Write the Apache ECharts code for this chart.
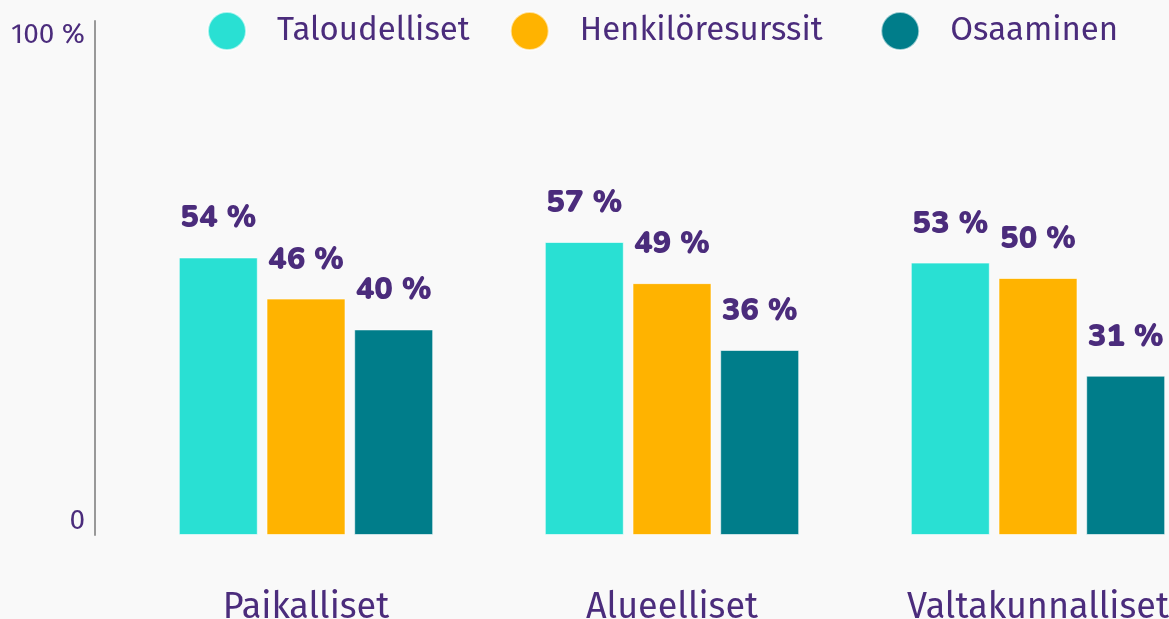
<!DOCTYPE html>
<html><head><meta charset="utf-8">
<script src="https://cdn.jsdelivr.net/npm/echarts@6/dist/echarts.min.js"></script>
<style>html,body{margin:0;padding:0;background:#f9f9f9}#c{width:1169px;height:619px}</style>
</head><body><div id="c"></div>
<script>
const categories = ['Paikalliset', 'Alueelliset', 'Valtakunnalliset'];
const seriesNames = ['Taloudelliset', 'Henkilöresurssit', 'Osaaminen'];
const taloudelliset = [54, 57, 53];
const henkiloresurssit = [46, 49, 50];
const osaaminen = [40, 36, 31];
const yTicks = [0, 100];

const purple = '#4b2c7c';
const colors = ['#29e0d3', '#ffb300', '#007d8a'];
const values = [taloudelliset, henkiloresurssit, osaaminen];

const chart = echarts.init(document.getElementById('c'));
chart.setOption({
  backgroundColor: '#f9f9f9',
  animation: false,
  legend: {
    top: 11, left: 207, padding: 0, itemWidth: 38, itemHeight: 38, itemGap: 40, icon: 'circle',
    textStyle: { fontFamily: 'Fira Sans, Open Sans, sans-serif', fontSize: 33, color: purple, padding: [0, 0, 0, 26] },
    formatter: name => name === seriesNames[1] ? name + '\u00a0\u00a0' : name,
    data: seriesNames
  },
  grid: { left: 123, width: 1098, top: 21, bottom: 84, outerBoundsMode: 'none', containLabel: false },
  xAxis: {
    type: 'category', data: categories,
    axisLine: { show: false }, axisTick: { show: false },
    axisLabel: { margin: 55, fontSize: 36, color: purple, fontFamily: 'Fira Sans, Open Sans, sans-serif' }
  },
  yAxis: {
    type: 'value', min: 0, max: 100, interval: 100, offset: 28,
    splitLine: { show: false },
    axisLine: { show: true, lineStyle: { color: '#999', width: 2 } },
    axisTick: { show: false },
    axisLabel: {
      margin: 10, fontSize: 28, color: purple, fontFamily: 'Fira Sans, Open Sans, sans-serif',
      verticalAlignMinLabel: 'bottom', verticalAlignMaxLabel: 'top',
      formatter: v => yTicks.includes(v) ? (v === 0 ? '0' : v + ' %') : ''
    }
  },
  series: seriesNames.map((n, i) => ({
    name: n, type: 'bar', data: values[i], barWidth: 79, barGap: '11%',
    itemStyle: { color: colors[i], borderColor: 'rgba(255,255,255,0.6)', borderWidth: 1 },
    label: {
      show: true, position: 'top', distance: 22, formatter: '{c} %',
      fontSize: 31, fontWeight: 900, color: purple, fontFamily: 'Nunito, Lato, sans-serif'
    }
  }))
});
</script></body></html>
